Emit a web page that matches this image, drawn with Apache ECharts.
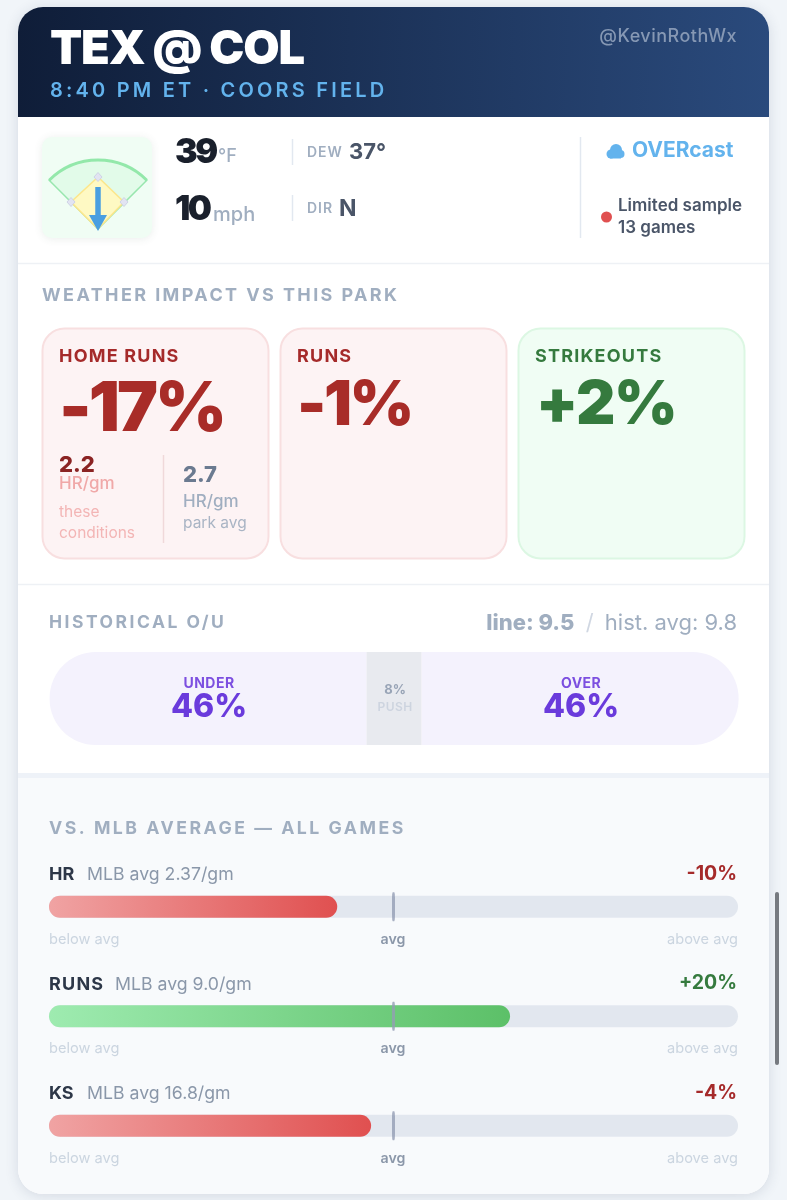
<!DOCTYPE html>
<html><head><meta charset="utf-8">
<style>html,body{margin:0;padding:0;background:#f1f5f9}#c{width:787px;height:1200px}</style>
<script src="https://cdn.jsdelivr.net/npm/echarts@6/dist/echarts.min.js"></script>
</head><body><div id="c"></div>
<script>
const statCategories = ['HR', 'RUNS', 'KS'];
const statPct = [-9.8, 20.3, -3.9];
const statAvgNotes = ['MLB avg 2.37/gm', 'MLB avg 9.0/gm', 'MLB avg 16.8/gm'];
const statLabels = ['-10%', '+20%', '-4%'];
const ouCategories = ['UNDER', 'PUSH', 'OVER'];
const ouValues = [46, 8, 46];
const impactNames = ['HOME RUNS', 'RUNS', 'STRIKEOUTS'];
const impactLabels = ['-17%', '-1%', '+2%'];

const F = 'Inter, sans-serif';
const TRACK = {
  'TEX @ COL': '-1.2px', '8:40 PM ET · COORS FIELD': '3.2px', '@KevinRothWx': '0.5px',
  '39': '-2.6px', '10': '-2.6px', 'DEW': '1px', 'DIR': '1px',
  'WEATHER IMPACT VS THIS PARK': '2.4px', 'HISTORICAL O/U': '2.5px', 'VS. MLB AVERAGE — ALL GAMES': '2.5px',
  'HOME RUNS': '1.2px', 'RUNS': '1.2px', 'STRIKEOUTS': '1.2px', '-17%': '-3px', '-1%': '-2.5px', '+2%': '-1.5px',
  'UNDER': '0.5px', 'OVER': '0.5px', 'PUSH': '0.5px'
};
const ft = CanvasRenderingContext2D.prototype.fillText;
CanvasRenderingContext2D.prototype.fillText = function (t, x, y, m) {
  this.letterSpacing = TRACK[t] || '0px';
  return m === undefined ? ft.call(this, t, x, y) : ft.call(this, t, x, y, m);
};

const G = [];
const rect = (x, y, w, h, r, fill, extra) => G.push(Object.assign({ type: 'rect', shape: { x, y, width: w, height: h, r }, style: Object.assign({ fill }, extra || {}) }));
const line = (x1, y1, x2, y2, stroke, lw) => G.push({ type: 'line', shape: { x1, y1, x2, y2 }, style: { stroke, lineWidth: lw || 1.5 } });
const txt = (text, x, y, size, weight, fill, align) => G.push({ type: 'text', x, y, style: { text, fontFamily: F, fontSize: size, fontWeight: weight, fill, align: align || 'left', verticalAlign: 'middle' } });
const hGrad = (a, b) => ({ type: 'linear', x: 0, y: 0, x2: 1, y2: 0, colorStops: [{ offset: 0, color: a }, { offset: 1, color: b }] });

// card
rect(18, 7, 751, 1187, 25, '#ffffff', { shadowBlur: 14, shadowColor: 'rgba(40,60,90,0.14)', shadowOffsetY: 2 });
rect(18, 7, 751, 110, [25, 25, 0, 0], { type: 'linear', x: 0, y: 0, x2: 1, y2: 0.15, colorStops: [{ offset: 0, color: '#0f1d38' }, { offset: 1, color: '#2a4a7c' }] });
rect(18, 773, 751, 5, 0, '#eef2f8');
rect(18, 778, 751, 416, [0, 0, 25, 25], '#f8fafc');
line(18, 263.5, 769, 263.5, '#eef1f5', 1.5);
line(18, 584.5, 769, 584.5, '#eef1f5', 1.5);

// header
txt('TEX @ COL', 50, 49.5, 47, 900, '#ffffff');
txt('8:40 PM ET · COORS FIELD', 50, 91, 20, 600, '#63b3ed');
txt('@KevinRothWx', 737, 36.5, 18, 500, '#8698b4', 'right');

// field icon
rect(42, 137, 110, 101, 10, '#f0fdf4', { shadowBlur: 8, shadowColor: 'rgba(60,90,70,0.10)', shadowOffsetY: 1 });
G.push({ type: 'sector', shape: { cx: 98, cy: 229, r: 69, startAngle: -Math.PI * 0.75, endAngle: -Math.PI * 0.25 }, style: { fill: '#e2fbe9', stroke: '#98e6ae', lineWidth: 1.5 } });
G.push({ type: 'arc', shape: { cx: 98, cy: 229, r: 69, startAngle: -Math.PI * 0.75, endAngle: -Math.PI * 0.25 }, style: { fill: 'none', stroke: '#93e8aa', lineWidth: 3 } });
G.push({ type: 'polygon', shape: { points: [[98, 177], [124, 202], [98, 229], [71, 202]] }, style: { fill: '#fef9c3', stroke: '#fde68a', lineWidth: 1.5 } });
[[98, 177], [71, 202], [124, 202]].forEach(p => G.push({ type: 'polygon', shape: { points: [[p[0], p[1] - 4.5], [p[0] + 4, p[1]], [p[0], p[1] + 4.5], [p[0] - 4, p[1]]] }, style: { fill: '#e2e4f2', stroke: '#cfd3e6', lineWidth: 1 } }));
line(98, 187, 98, 216, '#4a9fe0', 5.5);
G.push({ type: 'polygon', shape: { points: [[89, 215], [107, 215], [98, 231]] }, style: { fill: '#4a9fe0' } });

// weather
txt('39', 175, 153, 34, 900, '#1a202c');
txt('°F', 218, 157, 18, 500, '#a0aec0');
txt('10', 175, 210, 34, 900, '#1a202c');
txt('mph', 213, 215, 20, 500, '#a0aec0');
line(292.5, 139, 292.5, 165, '#e2e8f0');
line(292.5, 195, 292.5, 221, '#e2e8f0');
txt('DEW', 307, 152.5, 14, 600, '#a0aec0');
txt('37°', 349, 152, 22, 700, '#4a5568');
txt('DIR', 307, 208.5, 14, 600, '#a0aec0');
txt('N', 339, 209, 23, 700, '#4a5568');
line(580.5, 137, 580.5, 238, '#e2e8f0');
[[611, 154, 4.5], [616, 150, 6], [620.5, 154, 4]].forEach(c => G.push({ type: 'circle', shape: { cx: c[0], cy: c[1], r: c[2] }, style: { fill: '#63b3ed' } }));
rect(610, 152, 11, 6.5, 0, '#63b3ed');
txt('OVERcast', 632, 150.5, 21, 700, '#63b3ed');
G.push({ type: 'circle', shape: { cx: 606.5, cy: 217, r: 5.5 }, style: { fill: '#e05050' } });
txt('Limited sample', 618, 206, 17, 600, '#4a5568');
txt('13 games', 618, 227.5, 17, 600, '#4a5568');

// impact cards
txt('WEATHER IMPACT VS THIS PARK', 42, 296, 18, 700, '#a0aec0');
const cardFill = ['#fdf3f4', '#fdf3f4', '#f0fdf4'];
const cardEdge = ['#f8dfe0', '#f8dfe0', '#dcf7e3'];
const cardInk = ['#a52a2a', '#a52a2a', '#357a3e'];
const bigInk = ['#a82c28', '#a82c28', '#357a3e'];
const cardX = [42, 280, 518];
const bigX = [59, 297, 536];
const bigY = [410, 406, 406];
const bigS = [69, 62, 61];
impactNames.forEach((n, i) => {
  rect(cardX[i] + 0.5, 328.5, 226, 230, 22, cardFill[i], { stroke: cardEdge[i], lineWidth: 2 });
  txt(n, cardX[i] + 17, 356.5, 18, 700, cardInk[i]);
  txt(impactLabels[i], bigX[i], bigY[i], bigS[i], 900, bigInk[i]);
});
txt('2.2', 59, 465.5, 22, 800, '#8b2323');
txt('HR/gm', 59, 483.5, 17, 500, '#f0a8a8');
txt('these', 59, 512.5, 15.5, 400, '#f3b5b5');
txt('conditions', 59, 533.5, 15.5, 400, '#f3b5b5');
line(163.5, 455, 163.5, 543, '#f0d8da');
txt('2.7', 183, 475.5, 22, 800, '#6b7a90');
txt('HR/gm', 183, 501.5, 17, 500, '#a0aec0');
txt('park avg', 183, 523.5, 15.5, 400, '#a9b4c4');

// O/U header
txt('HISTORICAL O/U', 49, 622.5, 17.5, 700, '#a0aec0');
G.push({ type: 'text', x: 737, y: 623, style: {
  text: '{a|line: 9.5}  {b|/}  {c|hist. avg: 9.8}', align: 'right', verticalAlign: 'middle', fontFamily: F, fontSize: 20,
  rich: { a: { fontFamily: F, fontSize: 22, fontWeight: 800, fill: '#a0aec0' }, b: { fontFamily: F, fontSize: 22, fill: '#d0d7e2' }, c: { fontFamily: F, fontSize: 22, fontWeight: 400, fill: '#a0aec0' } }
} });

// bars section text
txt('VS. MLB AVERAGE — ALL GAMES', 49, 828.5, 17.7, 700, '#a0aec0');
const rowStep = 109.5;
const noteX = [87, 115, 87];
statCategories.forEach((c, i) => {
  const dy = i * rowStep;
  txt(c, 49, 875 + dy, 18, 700, '#2d3748');
  txt(statAvgNotes[i], noteX[i], 875 + dy, 17.7, 400, '#8a97a9');
  txt(statLabels[i], 737, 874 + dy, 19.5, 700, statPct[i] < 0 ? '#a52a2a' : '#357a3e', 'right');
  txt('below avg', 49, 939.5 + dy, 14.6, 400, '#cbd5e0');
  txt('avg', 393, 939.5 + dy, 14.2, 600, '#8b97a9', 'center');
  txt('above avg', 738, 939.5 + dy, 14.6, 400, '#cbd5e0', 'right');
});

// scrollbar
rect(775, 892, 4, 173, 2, '#75797f');

const AXIS_MID = 60;
const ouColors = ['#f4f2fd', '#e8eaef', '#f4f2fd'];
const ouRadius = [[46, 0, 0, 46], 0, [0, 46, 46, 0]];
const ouRich = {
  t: { fontFamily: F, fontSize: 14, fontWeight: 700, color: '#7c4fe0', lineHeight: 17, align: 'center' },
  v: { fontFamily: F, fontSize: 32, fontWeight: 800, color: '#6a3bdc', lineHeight: 30, align: 'center' },
  p: { fontFamily: F, fontSize: 13, fontWeight: 700, color: '#98a4b6', lineHeight: 18, align: 'center' },
  q: { fontFamily: F, fontSize: 12, fontWeight: 600, color: '#cdd4df', lineHeight: 16, align: 'center' }
};
const ouSeries = ouCategories.map((c, i) => ({
  type: 'bar', name: c, stack: 'ou', xAxisIndex: 1, yAxisIndex: 1, barWidth: 93, silent: true,
  data: [ouValues[i]],
  itemStyle: { color: ouColors[i], borderRadius: ouRadius[i] },
  label: { show: true, position: 'inside', offset: [1, 0], rich: ouRich,
    formatter: i === 1 ? '{p|' + ouValues[i] + '%}\n{q|' + c + '}' : '{t|' + c + '}\n{v|' + ouValues[i] + '%}' }
}));
const fillColors = statPct.map(v => v < 0 ? hGrad('#f0a3a3', '#e05050') : hGrad('#9eebb0', '#5cc068'));

const chart = echarts.init(document.getElementById('c'), null, { renderer: 'canvas' });
chart.setOption({
  animation: false,
  backgroundColor: '#f1f5f9',
  grid: [
    { left: 49, width: 689, top: 852, height: 328.5, containLabel: false },
    { left: 49.6, width: 689, top: 652, height: 93, containLabel: false }
  ],
  xAxis: [
    { type: 'value', min: 0, max: 120, show: false, gridIndex: 0 },
    { type: 'value', min: 0, max: 100, show: false, gridIndex: 1 }
  ],
  yAxis: [
    { type: 'category', data: statCategories, inverse: true, show: false, gridIndex: 0 },
    { type: 'category', data: ['O/U'], show: false, gridIndex: 1 }
  ],
  graphic: { elements: G },
  series: [
    { type: 'bar', name: 'vs MLB', xAxisIndex: 0, yAxisIndex: 0, barWidth: 22, silent: true,
      showBackground: true, backgroundStyle: { color: '#e2e7ef', borderRadius: 11 },
      data: statPct.map((v, i) => ({ value: v + AXIS_MID, itemStyle: { color: fillColors[i], borderRadius: 11 } })) },
    { type: 'scatter', name: 'avg', xAxisIndex: 0, yAxisIndex: 0, symbol: 'roundRect', symbolSize: [3, 29], silent: true, z: 5,
      itemStyle: { color: '#939db4' },
      data: statCategories.map(c => [AXIS_MID, c]) }
  ].concat(ouSeries)
});
</script></body></html>
